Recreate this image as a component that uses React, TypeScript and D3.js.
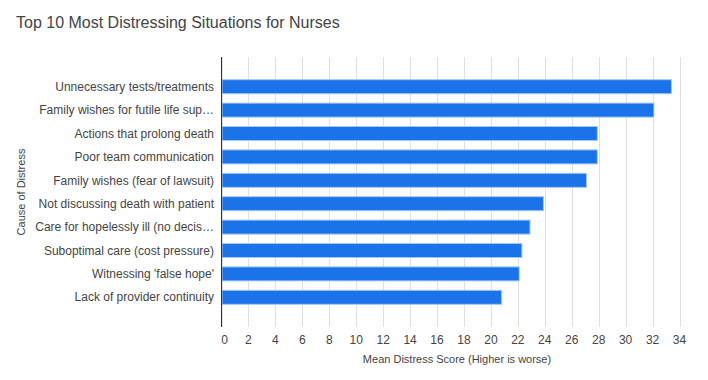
import React from "react";
import * as d3 from "d3";

const categories: string[] = [
  "Unnecessary tests/treatments",
  "Family wishes for futile life sup\u2026",
  "Actions that prolong death",
  "Poor team communication",
  "Family wishes (fear of lawsuit)",
  "Not discussing death with patient",
  "Care for hopelessly ill (no decis\u2026",
  "Suboptimal care (cost pressure)",
  "Witnessing 'false hope'",
  "Lack of provider continuity",
];
const scores: number[] = [33.4, 32.1, 27.9, 27.9, 27.1, 23.9, 22.9, 22.3, 22.1, 20.8];
const xTicks: number[] = [0, 2, 4, 6, 8, 10, 12, 14, 16, 18, 20, 22, 24, 26, 28, 30, 32, 34];

const title = "Top 10 Most Distressing Situations for Nurses";
const xTitle = "Mean Distress Score (Higher is worse)";
const yTitle = "Cause of Distress";

const W = 708;
const H = 380;
const left = 221.5;
const right = 679.5;
const top = 57;
const bottom = 327;

export default function App() {
  const x = d3.scaleLinear().domain([0, 34]).range([left, right]);
  const y = d3
    .scaleBand<string>()
    .domain(categories)
    .range([top, bottom])
    .paddingInner(0.4)
    .paddingOuter(0.97);
  const font = "Arial, 'Liberation Sans', sans-serif";
  return (
    <svg
      width={W}
      height={H}
      style={{ position: "absolute", left: 0, top: 0, background: "#fff" }}
      fontFamily={font}
    >
      <rect x={0} y={0} width={W} height={H} fill="#fff" />
      <text x={16} y={28} fontSize={16} fill="#444">
        {title}
      </text>
      {xTicks.map((t) => (
        <line
          key={"g" + t}
          x1={Math.round(x(t)) + 0.5}
          x2={Math.round(x(t)) + 0.5}
          y1={top}
          y2={bottom}
          stroke="#e0e0e0"
          strokeWidth={1}
        />
      ))}
      {categories.map((c, i) => (
        <rect
          key={c}
          x={x(0) + 0.5}
          y={y(c)!}
          width={x(scores[i]) - x(0) - 0.5}
          height={y.bandwidth()}
          fill="#1a73e8"
          stroke="#a6c8f5"
          strokeWidth={1}
        />
      ))}
      <line x1={left} x2={left} y1={top} y2={bottom} stroke="#333" strokeWidth={1} />
      {categories.map((c) => (
        <text
          key={"l" + c}
          x={214}
          y={y(c)! + y.bandwidth() / 2}
          dy="0.35em"
          textAnchor="end"
          fontSize={12}
          fill="#444"
        >
          {c}
        </text>
      ))}
      {xTicks.map((t) => (
        <text
          key={"t" + t}
          x={x(t) + (t === 0 ? 3 : 0)}
          y={344}
          textAnchor="middle"
          fontSize={12}
          fill="#444"
        >
          {t}
        </text>
      ))}
      <text x={457} y={363} textAnchor="middle" fontSize={11} fill="#444">
        {xTitle}
      </text>
      <text
        transform={`translate(25,${(top + bottom) / 2}) rotate(-90)`}
        textAnchor="middle"
        fontSize={11}
        fill="#444"
      >
        {yTitle}
      </text>
    </svg>
  );
}
